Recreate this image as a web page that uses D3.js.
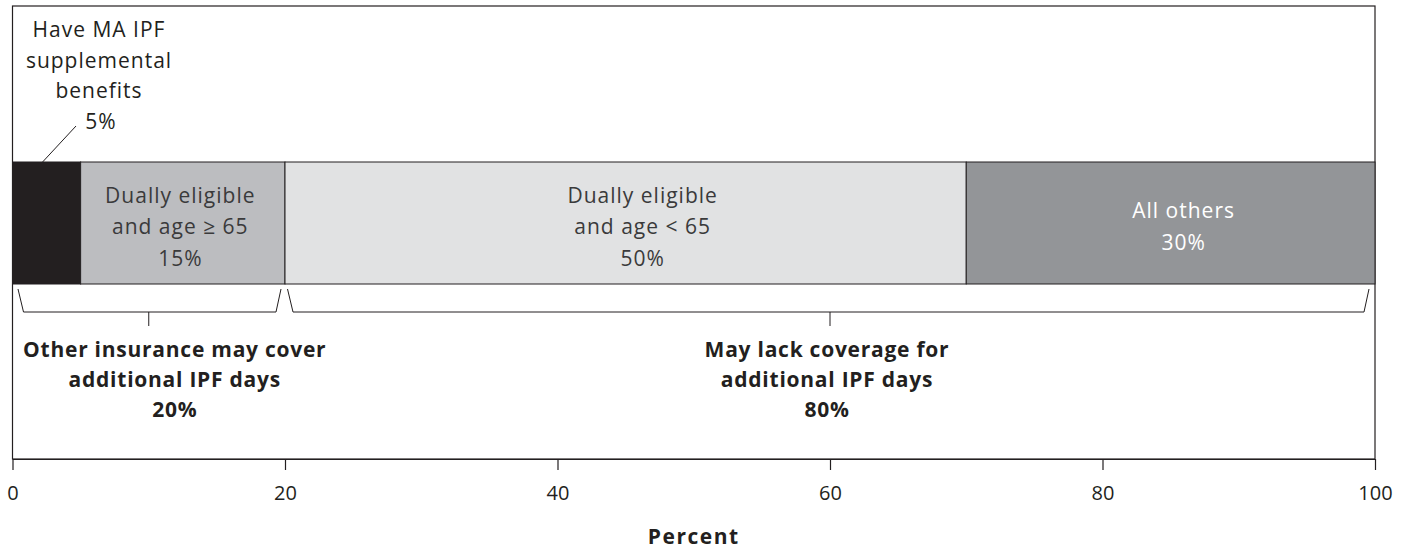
<!DOCTYPE html>
<html>
<head>
<meta charset="utf-8">
<script src="https://cdn.jsdelivr.net/npm/d3@7"></script>
<style>
  html, body { margin: 0; padding: 0; background: #fff; }
  svg { display: block; font-family: "Open Sans", "Noto Sans", sans-serif; }
</style>
</head>
<body>
<svg id="chart" width="1409" height="550"></svg>
<script>
// Segment labels (each line of a label is an entry) and their shares, in percent
const segmentLines = [
  ["Have MA IPF", "supplemental", "benefits"],
  ["Dually eligible", "and age \u2265 65"],
  ["Dually eligible", "and age < 65"],
  ["All others"]
];
const segmentShares = [5, 15, 50, 30];

// Coverage groups spanning the segments above
const groupLines = [
  ["Other insurance may cover", "additional IPF days"],
  ["May lack coverage for", "additional IPF days"]
];
const groupShares = [20, 80];

const xTicks = [0, 20, 40, 60, 80, 100];
const axisTitle = "Percent";

// Styling and label placement
const segmentColors = ["#231f20", "#bcbdc0", "#e1e2e3", "#939598"];
const segmentTextColors = ["#231f20", "#3a3a3b", "#3a3a3b", "#ffffff"];
const segmentLabelDx = [0, -2.5, 17, 13];
const groupLabelDx = [26, -3];

const svg = d3.select("#chart");
const plotLeft = 12.5, plotRight = 1375, plotTop = 6, plotBottom = 459;
const barTop = 162, barBottom = 284;
const ink = "#231f20";
const fontSize = 21;

const x = d3.scaleLinear().domain([0, 100]).range([plotLeft, plotRight]);

// Cumulative start of each segment
let acc = 0;
const segs = segmentShares.map((v, i) => {
  const s = { i, start: acc, value: v, lines: segmentLines[i] };
  acc += v;
  return s;
});

// Frame around the plot
svg.append("rect")
  .attr("x", plotLeft).attr("y", plotTop)
  .attr("width", plotRight - plotLeft).attr("height", plotBottom - plotTop)
  .attr("fill", "none").attr("stroke", ink).attr("stroke-width", 1.2);

// Stacked bar
svg.append("g").selectAll("rect").data(segs).join("rect")
  .attr("x", d => x(d.start))
  .attr("y", barTop)
  .attr("width", d => x(d.start + d.value) - x(d.start))
  .attr("height", barBottom - barTop)
  .attr("fill", d => segmentColors[d.i])
  .attr("stroke", ink).attr("stroke-width", 1);

// Labels inside the bar (all but the first, narrow segment)
const inner = svg.append("g")
  .attr("font-size", fontSize).attr("letter-spacing", 1)
  .attr("text-anchor", "middle");
segs.slice(1).forEach(d => {
  const lines = d.lines.concat([d.value + "%"]);
  const lh = 31.5;
  const cx = x(d.start + d.value / 2) + segmentLabelDx[d.i];
  const mid = (barTop + barBottom) / 2;
  const first = mid - (lines.length - 1) * lh / 2 + 11;
  lines.forEach((t, k) => {
    inner.append("text")
      .attr("x", cx).attr("y", first + k * lh)
      .attr("fill", segmentTextColors[d.i])
      .text(t);
  });
});

// Callout for the first segment, above the bar
const s0 = segs[0];
const calloutX = 99;
const callout = svg.append("g")
  .attr("font-size", fontSize).attr("letter-spacing", 1)
  .attr("text-anchor", "middle").attr("fill", ink);
s0.lines.concat([s0.value + "%"]).forEach((t, k) => {
  callout.append("text")
    .attr("x", calloutX + (k === 3 ? 2 : 0)).attr("y", 37 + k * 30.7)
    .text(t);
});
svg.append("line")
  .attr("x1", x(s0.start + s0.value / 2) - 4).attr("y1", barTop)
  .attr("x2", 76).attr("y2", 126)
  .attr("stroke", ink).attr("stroke-width", 1);

// Braces under the bar for each coverage group
let gAcc = 0;
const groups = groupShares.map((v, i) => {
  const g = { i, start: gAcc, value: v, lines: groupLines[i] };
  gAcc += v;
  return g;
});
const braceTop = 289, braceBottom = 312, tickEnd = 326;
const braceG = svg.append("g").attr("fill", "none").attr("stroke", ink).attr("stroke-width", 1);
groups.forEach((g, i) => {
  const x0 = x(g.start) + (i === 0 ? 5.5 : 2.5);
  const x1 = x(g.start + g.value) - (i === 0 ? 4 : 6);
  braceG.append("path")
    .attr("d", `M${x0},${braceTop} L${x0 + 5.5},${braceBottom} L${x1 - 5},${braceBottom} L${x1},${braceTop}`);
  const cx = x(g.start + g.value / 2);
  braceG.append("line")
    .attr("x1", cx).attr("x2", cx)
    .attr("y1", braceBottom).attr("y2", tickEnd);
});

const groupText = svg.append("g")
  .attr("font-size", fontSize).attr("font-weight", 700).attr("letter-spacing", 0.75)
  .attr("text-anchor", "middle").attr("fill", ink);
groups.forEach(g => {
  const cx = x(g.start + g.value / 2) + groupLabelDx[g.i];
  g.lines.concat([g.value + "%"]).forEach((t, k) => {
    groupText.append("text")
      .attr("x", cx).attr("y", 357 + k * 30)
      .text(t);
  });
});

// Horizontal axis
const axis = svg.append("g")
  .attr("transform", `translate(0,${plotBottom})`)
  .call(d3.axisBottom(x).tickValues(xTicks).tickSize(11).tickPadding(16).tickSizeOuter(0));
axis.select(".domain").attr("stroke", ink).attr("stroke-width", 1.2);
axis.selectAll(".tick line").attr("stroke", ink).attr("stroke-width", 1.2);
axis.selectAll(".tick text")
  .attr("font-size", 20).attr("fill", ink)
  .attr("font-family", "\"Open Sans\", \"Noto Sans\", sans-serif");

svg.append("text")
  .attr("x", (plotLeft + plotRight) / 2).attr("y", 544)
  .attr("text-anchor", "middle")
  .attr("font-size", fontSize).attr("font-weight", 700).attr("letter-spacing", 1.5)
  .attr("fill", ink)
  .text(axisTitle);
</script>
</body>
</html>
